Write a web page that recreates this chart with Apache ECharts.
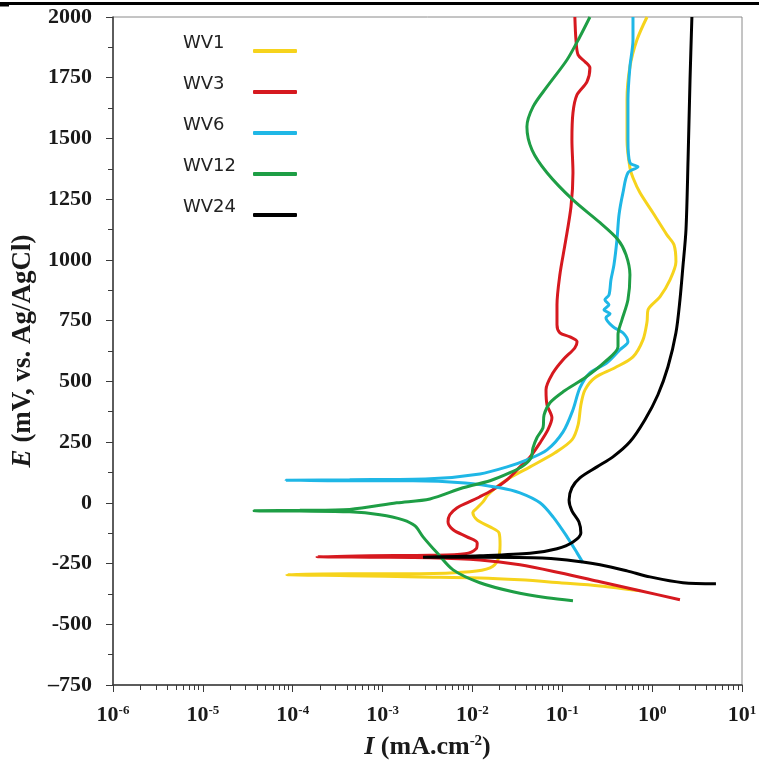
<!DOCTYPE html>
<html>
<head>
<meta charset="utf-8">
<script src="https://cdn.jsdelivr.net/npm/echarts@6/dist/echarts.min.js"></script>
<style>
  html, body { margin: 0; padding: 0; background: #fff; }
  #chart { width: 759px; height: 763px; }
</style>
</head>
<body>
<div id="chart"></div>
<script>
// 电流 I (mA.cm-2) 与电位 E (mV) — 按曲线顺序：阴极尾 -> 腐蚀电位尖 -> 阳极
var wv1I = [0.733, 0.263, 0.094, 0.0338, 0.0121, 0.0026, 0.00043, 0.000086, 0.00043, 0.0026, 0.0094, 0.0157, 0.0192, 0.0203, 0.0198, 0.0157, 0.01125, 0.0101, 0.01125, 0.0131, 0.0149, 0.01875, 0.0262, 0.0438, 0.083, 0.128, 0.150, 0.161, 0.179, 0.231, 0.385, 0.612, 0.79, 0.877, 0.90, 1.22, 1.58, 1.84, 1.75, 1.46, 1.02, 0.733, 0.612, 0.566, 0.525, 0.525, 0.566, 0.678, 0.877];
var wv1E = [-362, -342, -329, -317, -309, -305, -300, -296, -292, -292, -284, -268, -235, -173, -124, -99, -70, -41, -21, 4, 33, 66, 103, 148, 206, 259, 321, 403, 465, 515, 556, 601, 671, 745, 795, 848, 918, 992, 1062, 1103, 1194, 1276, 1338, 1379, 1494, 1659, 1795, 1906, 2000];

var wv3I = [2.04, 0.733, 0.263, 0.094, 0.0338, 0.0121, 0.00337, 0.00072, 0.000186, 0.00072, 0.00337, 0.0083, 0.011, 0.0113, 0.0087, 0.0061, 0.00535, 0.0056, 0.0067, 0.0087, 0.0121, 0.0169, 0.0243, 0.0338, 0.0438, 0.0565, 0.0693, 0.0767, 0.0676, 0.0659, 0.0789, 0.102, 0.138, 0.146, 0.122, 0.094, 0.0873, 0.0873, 0.094, 0.107, 0.125, 0.1315, 0.128, 0.1315, 0.146, 0.188, 0.203, 0.179, 0.150, 0.142, 0.138];
var wv3E = [-399, -362, -325, -288, -255, -235, -226, -224, -222, -218, -216, -210, -189, -165, -140, -111, -78, -49, -21, 0, 25, 54, 95, 148, 189, 247, 301, 350, 403, 465, 535, 589, 638, 663, 683, 700, 733, 815, 939, 1062, 1219, 1359, 1494, 1606, 1680, 1733, 1791, 1816, 1844, 1906, 2000];

var wv6I = [0.17, 0.146, 0.113, 0.0789, 0.0565, 0.0338, 0.0203, 0.0083, 0.00218, 0.00043, 0.000084, 0.00043, 0.00337, 0.0121, 0.0243, 0.0404, 0.0676, 0.102, 0.1315, 0.157, 0.203, 0.314, 0.438, 0.538, 0.473, 0.366, 0.306, 0.340, 0.291, 0.331, 0.298, 0.331, 0.348, 0.376, 0.406, 0.428, 0.473, 0.538, 0.695, 0.566, 0.538, 0.538, 0.566, 0.612, 0.612];
var wv6E = [-247, -206, -140, -58, 0, 41, 62, 82, 91, 91, 93, 95, 99, 119, 148, 177, 218, 292, 383, 473, 535, 576, 630, 663, 700, 725, 762, 778, 795, 815, 836, 856, 918, 980, 1083, 1186, 1276, 1359, 1383, 1400, 1494, 1659, 1795, 1906, 2000];

var wv12I = [0.1315, 0.0676, 0.0282, 0.0121, 0.0061, 0.00404, 0.00282, 0.0023, 0.00169, 0.000935, 0.00043, 0.00012, 0.000037, 0.00012, 0.00043, 0.00144, 0.00337, 0.00785, 0.0157, 0.0262, 0.0366, 0.0449, 0.0472, 0.0522, 0.061, 0.0627, 0.0729, 0.102, 0.179, 0.298, 0.417, 0.417, 0.461, 0.538, 0.566, 0.512, 0.417, 0.263, 0.1315, 0.0676, 0.046, 0.0404, 0.0472, 0.0676, 0.113, 0.157, 0.203];
var wv12E = [-403, -391, -366, -329, -276, -206, -140, -95, -70, -49, -37, -34, -33, -31, -27, 0, 16, 62, 91, 124, 152, 185, 226, 268, 309, 362, 412, 457, 515, 580, 642, 692, 753, 836, 939, 1021, 1083, 1153, 1247, 1359, 1453, 1548, 1630, 1713, 1824, 1919, 2000];

var wv24I = [5.13, 2.20, 0.946, 0.525, 0.263, 0.113, 0.0472, 0.0121, 0.00282, 0.0121, 0.0438, 0.0873, 0.1315, 0.161, 0.153, 0.128, 0.119, 0.128, 0.157, 0.243, 0.366, 0.566, 0.832, 1.16, 1.50, 1.84, 2.04, 2.20, 2.38, 2.51, 2.64, 2.77];
var wv24E = [-333, -329, -305, -280, -255, -235, -226, -224, -224, -218, -208, -189, -161, -124, -78, -33, 12, 62, 103, 148, 189, 251, 342, 445, 560, 700, 836, 972, 1124, 1412, 1741, 2000];

var names = ['WV1', 'WV3', 'WV6', 'WV12', 'WV24'];
var colors = ['#f6d31c', '#d6191f', '#1fb7e6', '#1e9e45', '#000000'];

// 次刻度 2..9 × 10^n
var minorTicks = [];
for (var p = -6; p < 1; p++) {
  for (var k = 2; k <= 9; k++) minorTicks.push(k * Math.pow(10, p));
}

var serifFont = 'Liberation Serif';
var labelColor = '#1a1a1a';

function pairs(xs, ys) {
  return xs.map(function (x, i) { return [x, ys[i]]; });
}
var curves = [pairs(wv1I, wv1E), pairs(wv3I, wv3E), pairs(wv6I, wv6E), pairs(wv12I, wv12E), pairs(wv24I, wv24E)];

var myChart = echarts.init(document.getElementById('chart'));
var option = {
  animation: false,
  backgroundColor: '#fff',
  grid: {
    left: 113, right: 17, top: 17, bottom: 78,
    outerBoundsMode: 'none',
    show: true, borderColor: '#8a8a8a', borderWidth: 1
  },
  graphic: [
    { type: 'rect', shape: { x: 0, y: 2, width: 759, height: 3 }, style: { fill: '#000' } },
    { type: 'rect', shape: { x: 0, y: 5, width: 9, height: 1.5 }, style: { fill: '#000' } }
  ],
  legend: {
    orient: 'vertical',
    left: 178,
    top: 29,
    align: 'right',
    icon: 'roundRect',
    itemWidth: 44,
    itemHeight: 4,
    itemGap: 22,
    data: names,
    formatter: '{n|{name}}',
    textStyle: {
      fontFamily: 'DejaVu Sans', fontSize: 18, color: '#222',
      padding: [0, 0, 16, 0],
      rich: { n: { width: 65, align: 'left', fontFamily: 'DejaVu Sans', fontSize: 18, color: '#222' } }
    }
  },
  xAxis: [
    {
      type: 'log',
      logBase: 10,
      min: 1e-6,
      max: 10,
      position: 'bottom',
      splitLine: { show: false },
      axisLine: { onZero: false, lineStyle: { color: '#3a3a3a', width: 1.5 } },
      axisTick: { inside: false, length: 7, lineStyle: { color: '#3a3a3a' } },
      axisLabel: {
        margin: 19,
        formatter: function (v) {
          var e = Math.round(Math.log10(v));
          return '{b|10}{s|' + e + '}';
        },
        rich: {
          b: { fontFamily: serifFont, fontWeight: 'bold', fontSize: 22, color: labelColor, lineHeight: 22, verticalAlign: 'bottom' },
          s: { fontFamily: serifFont, fontWeight: 'bold', fontSize: 13, color: labelColor, lineHeight: 10, verticalAlign: 'top' }
        }
      },
      name: '{i|I} (mA.cm{s|-2})',
      nameLocation: 'middle',
      nameGap: 49,
      nameTextStyle: {
        fontFamily: serifFont, fontWeight: 'bold', fontSize: 26, color: labelColor,
        rich: {
          i: { fontFamily: serifFont, fontWeight: 'bold', fontStyle: 'italic', fontSize: 26, color: labelColor },
          s: { fontFamily: serifFont, fontWeight: 'bold', fontSize: 15, color: labelColor, lineHeight: 12, verticalAlign: 'top' }
        }
      }
    },
    {
      type: 'log',
      logBase: 10,
      min: 1e-6,
      max: 10,
      position: 'bottom',
      splitLine: { show: false },
      axisLine: { show: false, onZero: false },
      axisLabel: { show: false },
      axisTick: { inside: false, length: 5, customValues: minorTicks, lineStyle: { color: '#3a3a3a' } }
    }
  ],
  yAxis: {
    type: 'value',
    min: -750,
    max: 2000,
    interval: 250,
    splitLine: { show: false },
    axisLine: { show: true, onZero: false, lineStyle: { color: '#3a3a3a', width: 1.5 } },
    axisTick: { show: true, inside: false, length: 7, lineStyle: { color: '#3a3a3a' } },
    minorTick: { show: true, splitNumber: 2, length: 5, lineStyle: { color: '#3a3a3a' } },
    axisLabel: {
      margin: 21,
      fontFamily: serifFont, fontWeight: 'bold', fontSize: 22, color: labelColor,
      formatter: function (v) { return v === -750 ? '\u2013750' : String(v); }
    },
    name: '{i|E} (mV, vs. Ag/AgCl)',
    nameLocation: 'middle',
    nameGap: 76,
    nameTextStyle: {
      fontFamily: serifFont, fontWeight: 'bold', fontSize: 27, color: labelColor,
      rich: {
        i: { fontFamily: serifFont, fontWeight: 'bold', fontStyle: 'italic', fontSize: 27, color: labelColor }
      }
    }
  },
  series: names.map(function (n, i) {
    return {
      name: n,
      type: 'line',
      xAxisIndex: 0,
      data: curves[i],
      symbol: 'none',
      showSymbol: false,
      smooth: 0.3,
      clip: true,
      itemStyle: { color: colors[i] },
      lineStyle: { color: colors[i], width: 3 }
    };
  })
};
option && myChart.setOption(option);
window.addEventListener('resize', function () {
  myChart.resize();
});
</script>
</body>
</html>
